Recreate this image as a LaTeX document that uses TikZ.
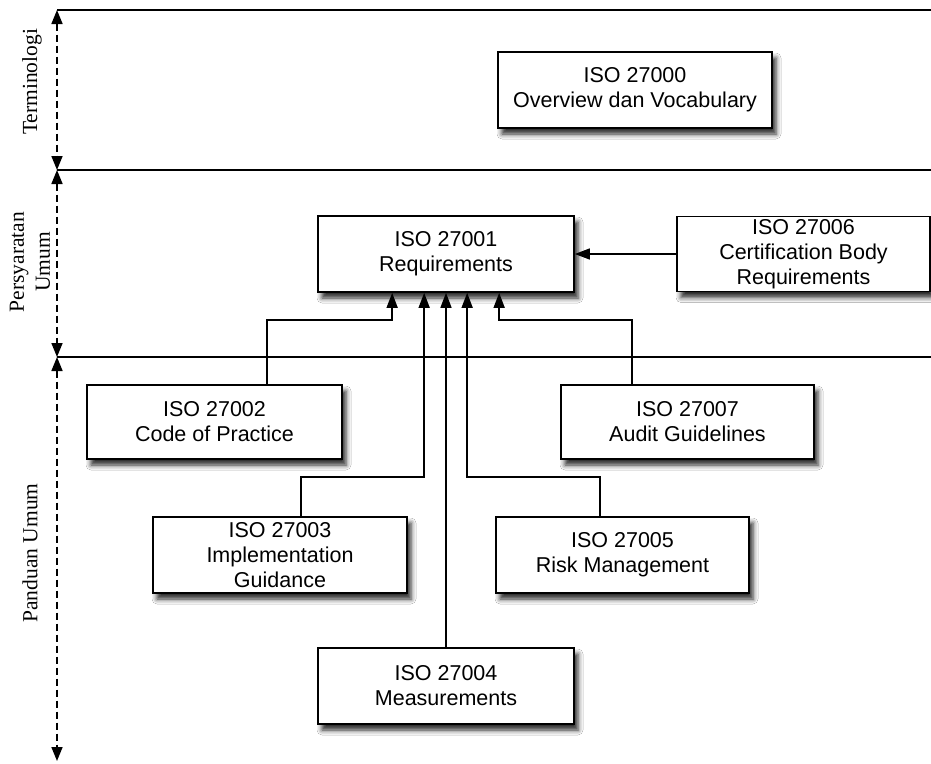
\documentclass[tikz,border=0pt]{standalone}
\usepackage{fontspec}
\setmainfont{Liberation Serif}
\newfontfamily\boxfont{Liberation Sans}
\usetikzlibrary{arrows.meta,shadows.blur}
\begin{document}
\begin{tikzpicture}[x=1pt,y=-1pt,
  box/.style={draw=black, line width=1.7pt, fill=white, align=center,
    font=\boxfont\fontsize{21.5}{25}\selectfont, inner sep=0pt,
    blur shadow={shadow xshift=4pt, shadow yshift=-6pt, shadow blur radius=5pt, shadow opacity=85}},
  conn/.style={line width=1.6pt, -{Triangle[width=11pt,length=15pt]}},
  rule/.style={line width=1.4pt},
  span/.style={line width=1.6pt, dash pattern=on 7pt off 4pt,
    {Triangle[width=11pt,length=14pt]}-{Triangle[width=11pt,length=14pt]}},
  lbl/.style={rotate=90, align=center, font=\fontsize{21.5}{26}\selectfont}]
\useasboundingbox (0,0) rectangle (931,763);
\fill[white] (0,0) rectangle (931,763);

% section rules
\coordinate (L0) at (57,10);  \coordinate (R0) at (931,10);
\coordinate (L1) at (57,170); \coordinate (R1) at (931,170);
\coordinate (L2) at (57,357); \coordinate (R2) at (931,357);
\coordinate (L3) at (57,761);
\draw[rule] (L0) -- (R0);
\draw[rule] (L1) -- (R1);
\draw[rule] (L2) -- (R2);
\draw[span] (L0) -- (L1);
\draw[span] (L1) -- (L2);
\draw[span] (L2) -- (L3);

\node[lbl] (t0) at (32,82) {Terminologi};
\node[lbl] (t1) at (30,262) {Persyaratan\\Umum};
\node[lbl] (t2) at (30,553) {Panduan Umum};

% boxes
\node[box, minimum width=274pt, minimum height=76pt] (n0) at (635,90) {ISO 27000\\Overview dan Vocabulary};
\node[box, minimum width=256pt, minimum height=76pt] (n1) at (446,254) {ISO 27001\\Requirements};
\node[box, minimum width=253pt, minimum height=75pt] (n6) at (803.5,254) {ISO 27006\\Certification Body\\Requirements};
\node[box, minimum width=255pt, minimum height=74pt] (n2) at (214.5,422) {ISO 27002\\Code of Practice};
\node[box, minimum width=253pt, minimum height=74pt] (n7) at (687.5,422) {ISO 27007\\Audit Guidelines};
\node[box, minimum width=254pt, minimum height=76pt] (n3) at (280,555) {ISO 27003\\Implementation\\Guidance};
\node[box, minimum width=253pt, minimum height=76pt] (n5) at (622.5,555) {ISO 27005\\Risk Management};
\node[box, minimum width=256pt, minimum height=76pt] (n4) at (446,686) {ISO 27004\\Measurements};

% connector bends
\coordinate (a2) at (267,320);
\coordinate (a3) at (301,477);
\coordinate (a5) at (600,477);
\coordinate (a7) at (632,320);

\draw[conn] (n2.north -| a2) -- (a2) -| ([xshift=75pt]n1.south west);
\draw[conn] (n3.north -| a3) -- (a3) -| ([xshift=107pt]n1.south west);
\draw[conn] (n4.north) -- (n1.south);
\draw[conn] (n5.north -| a5) -- (a5) -| ([xshift=150pt]n1.south west);
\draw[conn] (n7.north -| a7) -- (a7) -| ([xshift=182pt]n1.south west);
\draw[conn] (n6.west) -- (n1.east);
\end{tikzpicture}
\end{document}
